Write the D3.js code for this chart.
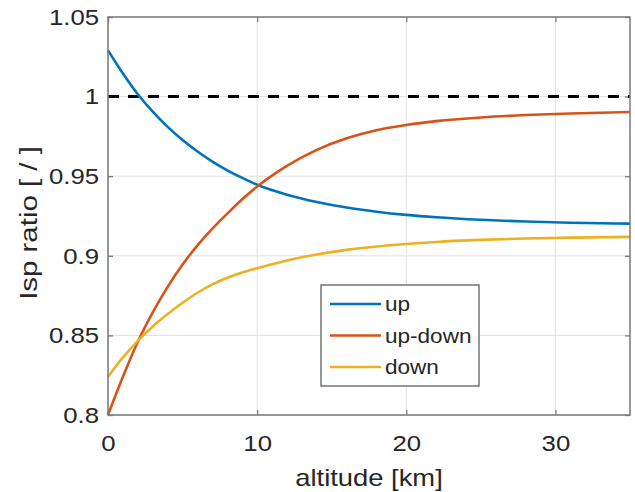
<!DOCTYPE html>
<html>
<head>
<meta charset="utf-8">
<script src="https://cdn.jsdelivr.net/npm/d3@7"></script>
<style>
body { margin: 0; background: #fff; }
text { font-family: "Liberation Sans", Arial, sans-serif; fill: #262626; }
</style>
</head>
<body>
<div id="chart"></div>
<script>
// values
var altitude    = [0, 1, 2, 3, 4, 5, 6, 7, 8, 9, 10, 12, 14, 16, 18, 20, 22, 25, 28, 31, 35];
var upRatio     = [1.029, 1.0145, 1.0015, 0.9905, 0.981, 0.9727, 0.9655, 0.9592, 0.9537, 0.9489, 0.9446, 0.9384, 0.9338, 0.9303, 0.9277, 0.9257, 0.9242, 0.9226, 0.9215, 0.9208, 0.9202];
var upDownRatio = [0.800, 0.824, 0.846, 0.8645, 0.8805, 0.8945, 0.9065, 0.917, 0.9265, 0.9355, 0.9435, 0.9565, 0.9665, 0.9738, 0.9789, 0.9822, 0.9846, 0.9869, 0.9884, 0.9894, 0.9903];
var downRatio   = [0.824, 0.8362, 0.8466, 0.8556, 0.8634, 0.8705, 0.8768, 0.882, 0.8862, 0.8895, 0.8922, 0.8971, 0.9008, 0.9037, 0.9058, 0.9074, 0.9087, 0.910, 0.9109, 0.9114, 0.9119];
var seriesNames  = ["up", "up-down", "down"];
var seriesColors = ["#0072BD", "#D95319", "#EDB120"];
var xTicks = [0, 10, 20, 30];
var yTicks = [0.8, 0.85, 0.9, 0.95, 1, 1.05];
var refLevel = 1;

var margin = {top: 17, right: 5, bottom: 77, left: 108},
    width = 635 - margin.left - margin.right,
    height = 492 - margin.top - margin.bottom;

var x = d3.scaleLinear()
    .domain([0, 35])
    .range([0, width]);

var y = d3.scaleLinear()
    .domain([0.8, 1.05])
    .range([height, 0]);

var svg = d3.select("#chart").append("svg")
    .attr("width", width + margin.left + margin.right)
    .attr("height", height + margin.top + margin.bottom)
    .append("g")
    .attr("transform", "translate(" + margin.left + "," + margin.top + ")");

// grid
svg.selectAll(".xgrid")
    .data(xTicks)
    .enter().append("line")
    .attr("class", "xgrid")
    .attr("x1", function(d) { return x(d); })
    .attr("x2", function(d) { return x(d); })
    .attr("y1", 0)
    .attr("y2", height)
    .style("stroke", "#e0e0e0")
    .style("stroke-width", 1);

svg.selectAll(".ygrid")
    .data(yTicks)
    .enter().append("line")
    .attr("class", "ygrid")
    .attr("x1", 0)
    .attr("x2", width)
    .attr("y1", function(d) { return y(d); })
    .attr("y2", function(d) { return y(d); })
    .style("stroke", "#e0e0e0")
    .style("stroke-width", 1);

// axes, ticks pointing inside
var xAxis = d3.axisBottom(x).tickValues(xTicks).tickSize(-5).tickPadding(20);
var yAxis = d3.axisLeft(y).tickValues(yTicks).tickSize(-5).tickPadding(8)
    .tickFormat(function(d) { return String(d); });

var gx = svg.append("g")
    .attr("class", "x axis")
    .attr("transform", "translate(0," + height + ")")
    .call(xAxis);
var gy = svg.append("g")
    .attr("class", "y axis")
    .call(yAxis);
var gt = svg.append("g")
    .call(d3.axisTop(x).tickValues(xTicks).tickSize(-5).tickFormat(""));
var gr = svg.append("g")
    .attr("transform", "translate(" + width + ",0)")
    .call(d3.axisRight(y).tickValues(yTicks).tickSize(-5).tickFormat(""));

[gx, gy, gt, gr].forEach(function(g) {
  g.select(".domain").remove();
  g.selectAll(".tick line").style("stroke", "#7a7a7a").style("stroke-width", 1.3);
});

gx.selectAll("text")
    .style("font-size", "23px")
    .style("fill", "#262626")
    .attr("transform", "scale(1.12,1)");
gy.selectAll("text")
    .style("font-size", "23px")
    .style("fill", "#262626")
    .attr("transform", "scale(1.12,1)");

// reference line
svg.append("line")
    .attr("x1", x(0))
    .attr("x2", x(35))
    .attr("y1", y(refLevel))
    .attr("y2", y(refLevel))
    .style("stroke", "#000")
    .style("stroke-width", 3)
    .style("stroke-dasharray", "11,9");

// curves
var seriesData = [upRatio, upDownRatio, downRatio];
var line = d3.line()
    .x(function(d, i) { return x(altitude[i]); })
    .y(function(d) { return y(d); })
    .curve(d3.curveMonotoneX);

svg.selectAll(".curve")
    .data(seriesData)
    .enter().append("path")
    .attr("class", "curve")
    .attr("d", line)
    .style("fill", "none")
    .style("stroke", function(d, i) { return seriesColors[i]; })
    .style("stroke-width", 2.6);

// box
svg.append("rect")
    .attr("x", 0)
    .attr("y", 0)
    .attr("width", width)
    .attr("height", height)
    .style("fill", "none")
    .style("stroke", "#7a7a7a")
    .style("stroke-width", 1.5);

// axis labels
svg.append("text")
    .attr("transform", "translate(" + (width / 2) + "," + (height + 71) + ") scale(1.19,1)")
    .style("text-anchor", "middle")
    .style("font-size", "23px")
    .text("altitude [km]");

svg.append("text")
    .attr("transform", "translate(" + (37 - margin.left) + "," + (height / 2 + 7) + ") rotate(-90) scale(1.28,1)")
    .style("text-anchor", "middle")
    .style("font-size", "23px")
    .text("Isp ratio [ / ]");

// legend
var legend = svg.append("g")
    .attr("transform", "translate(" + (321 - margin.left) + "," + (285 - margin.top) + ")");

legend.append("rect")
    .attr("width", 158)
    .attr("height", 101)
    .style("fill", "#fff")
    .style("stroke", "#6b6b6b")
    .style("stroke-width", 1.4);

var item = legend.selectAll(".item")
    .data(seriesNames)
    .enter().append("g")
    .attr("class", "item")
    .attr("transform", function(d, i) { return "translate(0," + (19 + i * 31.5) + ")"; });

item.append("line")
    .attr("x1", 9)
    .attr("x2", 60)
    .style("stroke", function(d, i) { return seriesColors[i]; })
    .style("stroke-width", 2.6);

item.append("text")
    .attr("transform", "translate(64,0) scale(1.1,1)")
    .attr("dy", "0.35em")
    .style("font-size", "20.5px")
    .text(function(d) { return d; });
</script>
</body>
</html>
